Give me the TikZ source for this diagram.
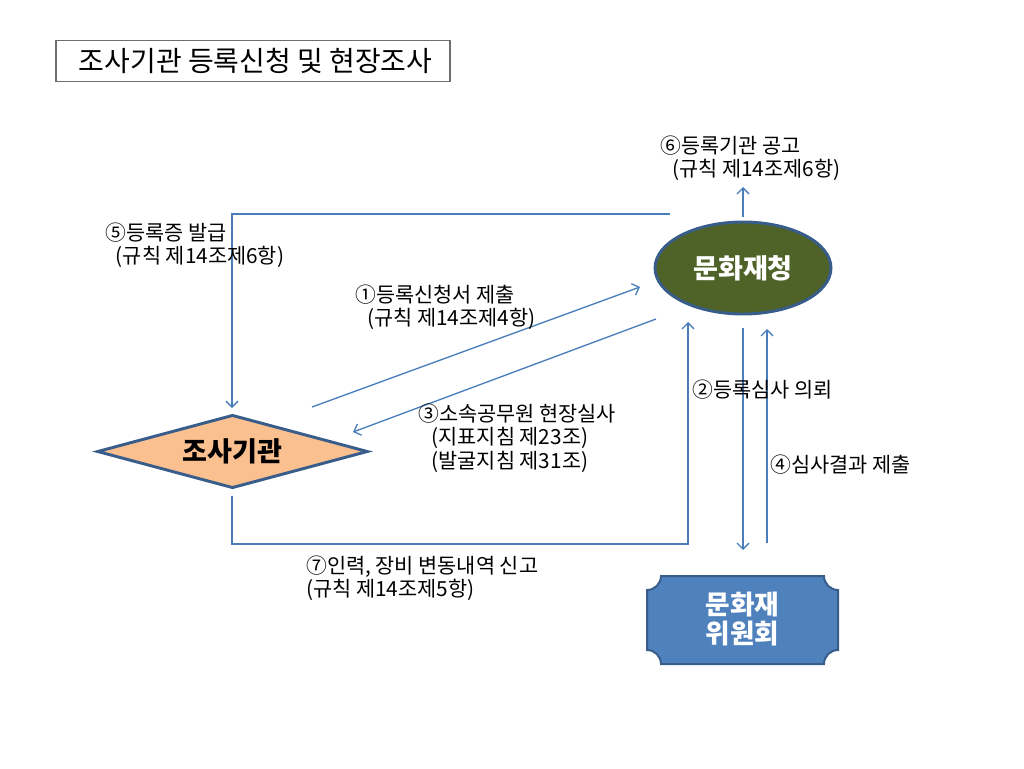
\documentclass[tikz,border=0pt]{standalone}
\usepackage{fontspec}
\setmainfont{Noto Sans CJK KR}
\usetikzlibrary{shapes.geometric,arrows.meta}
\definecolor{lineblue}{RGB}{74,126,187}
\definecolor{edgeblue}{RGB}{56,93,138}
\definecolor{olivefill}{RGB}{79,98,40}
\definecolor{peach}{RGB}{250,192,144}
\definecolor{plaqueblue}{RGB}{79,129,189}
\definecolor{titlegray}{RGB}{110,110,110}
\tikzset{
  conn/.style={draw=lineblue, line width=1pt},
  arr/.style={conn, -{Straight Barb[length=4.5pt,width=9pt]}},
  lbl/.style={anchor=west, inner sep=0pt, align=left, font=\fontsize{15.6}{17.5}\selectfont},
  titlebox/.style={draw=titlegray, line width=0.8pt, minimum width=295.5pt, minimum height=31pt, inner sep=0pt, font=\fontsize{21}{24}\selectfont},
  bigtext/.style={font=\fontsize{20.3}{22}\selectfont\bfseries}
}
\begin{document}
\begin{tikzpicture}[x=0.75pt,y=-0.75pt]
\useasboundingbox (0,0) rectangle (1024,768);
\fill[white] (0,0) rectangle (1024,768);

% title
\node[titlebox] (title) at (253,61) {\hspace*{4pt}조사기관 등록신청 및 현장조사};

% main shapes
\node[ellipse, fill=olivefill, draw=edgeblue, line width=2.2pt, minimum width=132pt, minimum height=69pt, inner sep=0pt, text=white, bigtext] (cha) at (743,268) {문화재청};
\node[diamond, fill=peach, draw=edgeblue, line width=2.2pt, minimum width=203pt, minimum height=55pt, aspect=3.7, inner sep=0pt, bigtext] (org) at (232.5,451.5) {조사기관};
\draw[fill=plaqueblue, draw=edgeblue, line width=1.5pt]
  (661,576) -- (824,576) .. controls (824,583.7) and (830.3,590) .. (838,590)
  -- (838,650) .. controls (830.3,650) and (824,656.3) .. (824,664)
  -- (661,664) .. controls (661,656.3) and (654.7,650) .. (647,650)
  -- (647,590) .. controls (654.7,590) and (661,583.7) .. (661,576) -- cycle;
\node[align=center, text=white, inner sep=0pt, font=\fontsize{20}{21.5}\selectfont\bfseries] (cmt) at (742.5,619) {문화재\\위원회};

% coordinates for connectors
\coordinate (c5a) at (670,214);
\coordinate (c5b) at (232,408);
\coordinate (c6a) at (743,217);
\coordinate (c6b) at (743,187);
\coordinate (c1a) at (312,407);
\coordinate (c1b) at (640,287);
\coordinate (c3a) at (656,319);
\coordinate (c3b) at (353,432);
\coordinate (c2a) at (743,328);
\coordinate (c2b) at (743,550);
\coordinate (c4a) at (767,543);
\coordinate (c4b) at (767,329);
\coordinate (c7a) at (232,496);
\coordinate (c7b) at (688,544);
\coordinate (c7c) at (688,322);

% connectors
\draw[arr] (c5a) -| (c5b);
\draw[arr] (c6a) -- (c6b);
\draw[arr] (c1a) -- (c1b);
\draw[arr] (c3a) -- (c3b);
\draw[arr] (c2a) -- (c2b);
\draw[arr] (c4a) -- (c4b);
\draw[arr] (c7a) |- (c7b) -- (c7c);

% labels
\node[lbl] (l5) at (105,245) {⑤등록증 발급\\\hspace*{8pt}(규칙 제14조제6항)};
\node[lbl] (l6) at (660,158) {⑥등록기관 공고\\\hspace*{9pt}(규칙 제14조제6항)};
\node[lbl] (l1) at (355,307.5) {①등록신청서 제출\\\hspace*{9pt}(규칙 제14조제4항)};
\node[lbl] (l3) at (418,438) {③소속공무원 현장실사\\\hspace*{10pt}(지표지침 제23조)\\\hspace*{10pt}(발굴지침 제31조)};
\node[lbl] (l2) at (692,390) {②등록심사 의뢰};
\node[lbl] (l4) at (770,465) {④심사결과 제출};
\node[lbl] (l7) at (306,578.5) {⑦인력, 장비 변동내역 신고\\(규칙 제14조제5항)};
\end{tikzpicture}
\end{document}
